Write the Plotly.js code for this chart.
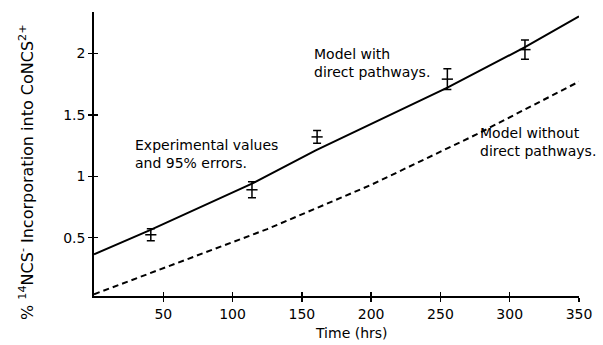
<!DOCTYPE html>
<html>
<head>
<meta charset="utf-8">
<script src="https://cdn.plot.ly/plotly-3.0.1.min.js"></script>
<style>html,body{margin:0;padding:0;background:#fff;}#chart{width:603px;height:345px;}</style>
</head>
<body>
<div id="chart"></div>
<script>
// Model with direct pathways (solid line)
const withT = [0, 40, 114, 160, 255, 311, 350];
const withV = [0.365, 0.56, 0.94, 1.21, 1.72, 2.05, 2.30];
// Model without direct pathways (dashed line)
const withoutT = [0, 50, 125, 200, 276, 350];
const withoutV = [0.04, 0.25, 0.57, 0.93, 1.34, 1.77];
// Experimental values and 95% errors
const expT = [41, 114, 161, 255, 311];
const expV = [0.524, 0.89, 1.32, 1.79, 2.03];
const expErr = [0.048, 0.065, 0.052, 0.085, 0.079];
// Ticks
const xTicks = [50, 100, 150, 200, 250, 300, 350];
const yTicks = [0.5, 1, 1.5, 2];
const yTickText = ['0.5', '1', '1.5', '2'];

const FONT = 'DejaVu Sans, Arial, sans-serif';
const xRange = [0, 350];
const yRange = [0.026, 2.336];

const traces = [
  {x: withT, y: withV, mode: 'lines', line: {color: '#000', width: 2}, hoverinfo: 'skip'},
  {x: withoutT, y: withoutV, mode: 'lines', line: {color: '#000', width: 2, dash: '6px,4px'}, hoverinfo: 'skip'},
  {x: expT, y: expV, mode: 'markers',
   marker: {symbol: 'line-ew', size: 8, color: '#000', line: {color: '#000', width: 1.5}},
   error_y: {type: 'data', array: expErr, visible: true, color: '#000', thickness: 1.5, width: 4},
   hoverinfo: 'skip'},
  {x: [], y: [], xaxis: 'x2', yaxis: 'y2', mode: 'markers', hoverinfo: 'skip'}
];

const axisCommon = {
  showgrid: false, zeroline: false, color: '#000',
  tickfont: {family: FONT, size: 14, color: '#000'}
};

const layout = {
  width: 603, height: 345,
  margin: {l: 94, r: 24, t: 12, b: 49},
  paper_bgcolor: '#fff', plot_bgcolor: '#fff',
  showlegend: false,
  font: {family: FONT, color: '#000'},
  xaxis: Object.assign({}, axisCommon, {
    range: xRange, tickmode: 'array', tickvals: xTicks, ticktext: xTicks.map(String),
    ticks: 'outside', ticklen: 4, tickwidth: 1.5, tickcolor: '#000',
    showline: true, linecolor: '#000', linewidth: 1.8
  }),
  yaxis: Object.assign({}, axisCommon, {
    range: yRange, tickmode: 'array', tickvals: yTicks, ticktext: yTickText,
    ticks: 'outside', ticklen: 4, tickwidth: 1.5, tickcolor: '#000',
    showline: true, linecolor: '#000', linewidth: 1.8
  }),
  xaxis2: {overlaying: 'x', anchor: 'y', side: 'bottom', range: xRange,
    tickmode: 'array', tickvals: xTicks, showticklabels: false,
    ticks: 'inside', ticklen: 4, tickwidth: 1.5, tickcolor: '#000',
    showline: false, showgrid: false, zeroline: false},
  yaxis2: {overlaying: 'y', anchor: 'x', side: 'left', range: yRange,
    tickmode: 'array', tickvals: yTicks, showticklabels: false,
    ticks: 'inside', ticklen: 4, tickwidth: 1.5, tickcolor: '#000',
    showline: false, showgrid: false, zeroline: false},
  annotations: [
    {text: '% <sup>14</sup>NCS<sup>-</sup> Incorporation into CoNCS<sup>2+</sup>',
     xref: 'paper', yref: 'paper', x: -0.138, y: 0.437, textangle: -90,
     showarrow: false, xanchor: 'center', yanchor: 'middle',
     font: {family: FONT, size: 16, color: '#000'}},
    {text: 'Time (hrs)', xref: 'paper', yref: 'paper', x: 0.531, y: -0.130,
     showarrow: false, xanchor: 'center', yanchor: 'middle',
     font: {family: FONT, size: 14, color: '#000'}},
    {text: 'Experimental values<br>and 95% errors.', xref: 'paper', yref: 'paper',
     x: 0.0804, y: 0.50, showarrow: false, xanchor: 'left', yanchor: 'middle', align: 'left',
     font: {family: FONT, size: 14, color: '#000'}},
    {text: 'Model with<br>direct pathways.', xref: 'paper', yref: 'paper',
     x: 0.4495, y: 0.820, showarrow: false, xanchor: 'left', yanchor: 'middle', align: 'left',
     font: {family: FONT, size: 14, color: '#000'}},
    {text: 'Model without<br>direct pathways.', xref: 'paper', yref: 'paper',
     x: 0.7918, y: 0.542, showarrow: false, xanchor: 'left', yanchor: 'middle', align: 'left',
     font: {family: FONT, size: 14, color: '#000'}}
  ]
};

Plotly.newPlot('chart', traces, layout, {staticPlot: true, displayModeBar: false});
</script>
</body>
</html>
